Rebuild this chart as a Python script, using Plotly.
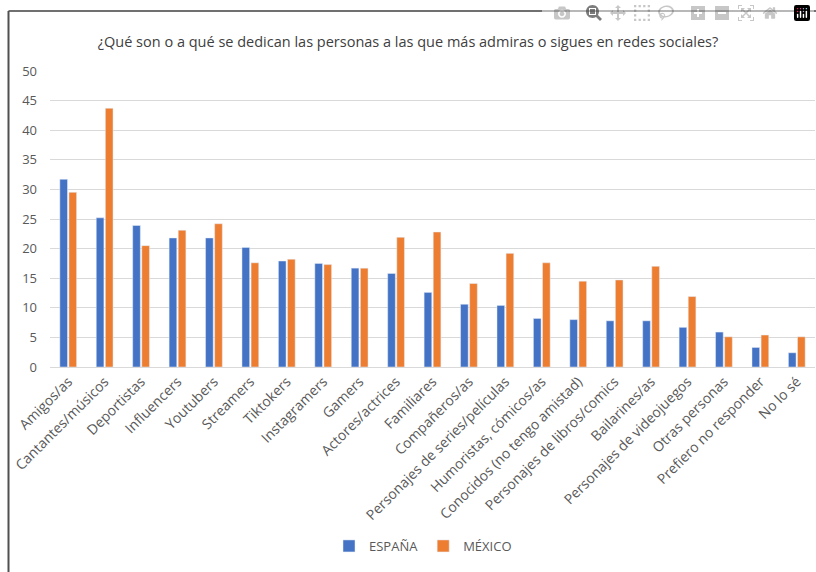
import plotly.graph_objects as go

categories = [
    "Amigos/as", "Cantantes/músicos", "Deportistas", "Influencers", "Youtubers",
    "Streamers", "Tiktokers", "Instagramers", "Gamers", "Actores/actrices",
    "Familiares", "Compañeros/as", "Personajes de series/películas",
    "Humoristas, cómicos/as", "Conocidos (no tengo amistad)",
    "Personajes de libros/comics", "Bailarines/as", "Personajes de videojuegos",
    "Otras personas", "Prefiero no responder", "No lo sé",
]
espana = [31.7, 25.2, 23.9, 21.8, 21.8, 20.2, 17.9, 17.5, 16.7, 15.8,
          12.6, 10.6, 10.4, 8.2, 8.0, 7.8, 7.8, 6.7, 5.9, 3.3, 2.4]
mexico = [29.5, 43.7, 20.5, 23.1, 24.2, 17.6, 18.2, 17.3, 16.7, 21.9,
          22.8, 14.1, 19.2, 17.6, 14.5, 14.7, 17.0, 11.9, 5.1, 5.4, 5.1]
y_ticks = [0, 5, 10, 15, 20, 25, 30, 35, 40, 45, 50]

title = "¿Qué son o a qué se dedican las personas a las que más admiras o sigues en redes sociales?"

fig = go.Figure()
fig.add_trace(go.Bar(x=categories, y=espana, name="ESPAÑA", marker_color="#4472C4"))
fig.add_trace(go.Bar(x=categories, y=mexico, name="MÉXICO", marker_color="#ED7D31"))

L, R, T, B = 50, 1, 71, 205
W, H = 816, 572
pw, ph = W - L - R, H - T - B

fig.update_layout(
    width=W, height=H,
    margin=dict(l=L, r=R, t=T, b=B, pad=0),
    paper_bgcolor="white", plot_bgcolor="white",
    font=dict(family="Open Sans", size=13, color="#595959"),
    title=dict(text=title, x=0.5, xref="container", xanchor="center",
               y=1 - 42 / H, yanchor="middle",
               font=dict(family="Open Sans", size=14.5, color="#404040")),
    barmode="group", bargap=0.5, bargroupgap=0.16,
    showlegend=True,
    legend=dict(orientation="h", x=(423 - L) / pw, xanchor="center",
                y=(367 - 546) / ph, yanchor="middle",
                font=dict(size=13, color="#595959"),
                itemwidth=30, traceorder="normal"),
    xaxis=dict(tickangle=-45, showgrid=False, showline=True, linecolor="#d9d9d9",
               linewidth=1, ticks="", tickfont=dict(size=14, color="#595959")),
    yaxis=dict(range=[0, 50], tickvals=y_ticks, showgrid=True, gridcolor="#d9d9d9",
               gridwidth=1, zeroline=False, ticks="", showline=False,
               tickfont=dict(size=13, color="#595959"), ticklabelstandoff=12),
    shapes=[
        dict(type="line", xref="paper", yref="paper",
             x0=(8.5 - L) / pw, x1=(W + 5 - L) / pw,
             y0=1 + (T - 11) / ph, y1=1 + (T - 11) / ph,
             line=dict(color="#404040", width=1.5)),
        dict(type="line", xref="paper", yref="paper",
             x0=(8.5 - L) / pw, x1=(8.5 - L) / pw,
             y0=1 + (T - 11) / ph, y1=-(H + 5 - T - ph) / ph,
             line=dict(color="#505050", width=2)),
    ],
)

fig.write_html("out.html")

with open("out.html", encoding="utf-8") as f:
    html = f.read()
html = html.replace("<body>", '<body style="margin:0;overflow:hidden">', 1)
with open("out.html", "w", encoding="utf-8") as f:
    f.write(html)
